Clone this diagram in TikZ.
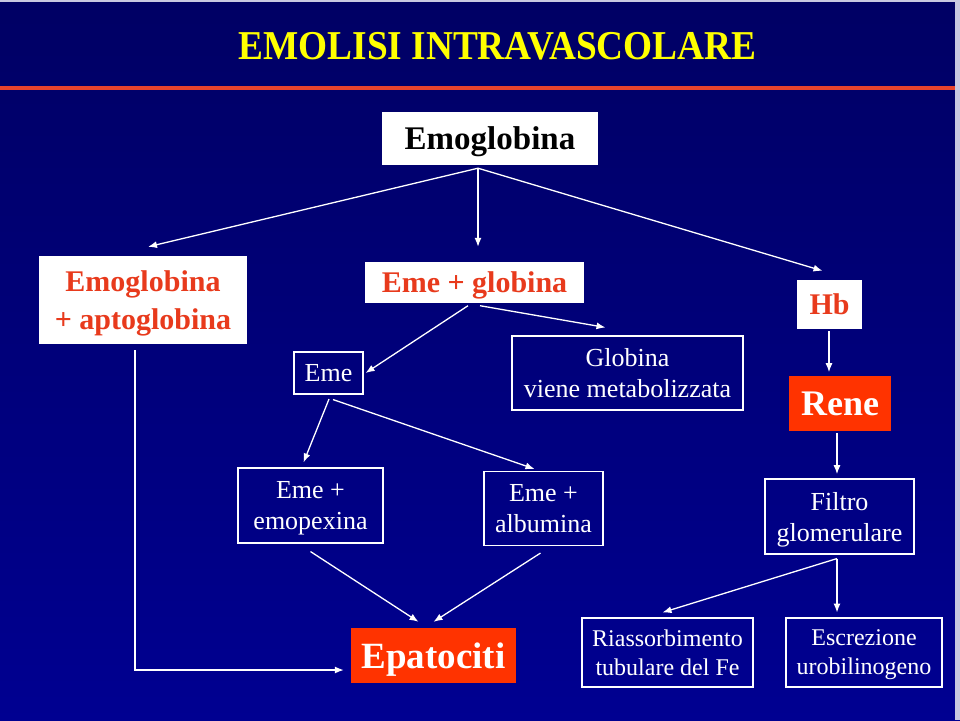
\documentclass[tikz,border=0pt]{standalone}
\usepackage{fontspec}
\setmainfont{Liberation Serif}
\usetikzlibrary{arrows.meta,calc}
\definecolor{bgtop}{RGB}{0,0,100}
\definecolor{bgbot}{RGB}{0,0,145}
\definecolor{redtxt}{RGB}{232,58,28}
\definecolor{redfill}{RGB}{255,51,0}
\definecolor{rule}{RGB}{232,67,45}
\definecolor{titley}{RGB}{255,255,0}
\definecolor{edge}{RGB}{200,200,225}
\tikzset{
  whitebox/.style={fill=white, inner sep=0pt, align=center, text=redtxt, text depth=0pt,
    font=\bfseries\fontsize{30}{38}\selectfont},
  framebox/.style={draw=white, line width=1.1pt, inner sep=0pt, align=center, text=white,
    text depth=0pt, font=\fontsize{26}{31}\selectfont},
  smallframe/.style={framebox, font=\fontsize{24}{29}\selectfont},
  redbox/.style={fill=redfill, inner sep=0pt, align=center, text=white, text depth=0pt},
  conn/.style={draw=white, line width=1.3pt},
  arr/.style={conn, -{Latex[length=9pt,width=7pt]}}
}
\begin{document}
\begin{tikzpicture}[x=1pt,y=-1pt]
\useasboundingbox (0,0) rectangle (960,720);
% background
\fill[top color=bgtop, bottom color=bgbot] (0,0) rectangle (960,720);
\fill[edge] (955,0) rectangle (960,720);
\fill[edge] (0,0) rectangle (960,1.5);
\fill[rule] (0,86) rectangle (955,90);
% title
\node[anchor=base, text=titley, inner sep=0pt] (title) at (497.5,59)
  {\scalebox{0.91}[1]{\bfseries\fontsize{41}{41}\selectfont EMOLISI INTRAVASCOLARE}};
% nodes
\node[whitebox, text=black, font=\bfseries\fontsize{33}{38}\selectfont,
  minimum width=216pt, minimum height=53pt] (emo) at (490,138.5) {Emoglobina};
\node[whitebox, minimum width=208pt, minimum height=88pt] (apto) at (143,300)
  {Emoglobina\\+ aptoglobina};
\node[whitebox, minimum width=219pt, minimum height=41pt] (eg) at (474.5,282.5) {Eme + globina};
\node[whitebox, minimum width=65pt, minimum height=49pt] (hb) at (829.5,304.5) {Hb};
\node[framebox, minimum width=69pt, minimum height=42pt] (eme) at (328.5,373) {Eme};
\node[framebox, minimum width=231pt, minimum height=74pt] (glob) at (627.5,373)
  {Globina\\viene metabolizzata};
\node[redbox, font=\bfseries\fontsize{36}{40}\selectfont,
  minimum width=102pt, minimum height=55pt] (rene) at (840,403.5) {Rene};
\node[framebox, minimum width=145pt, minimum height=75pt] (emop) at (310.5,505.5)
  {Eme +\\emopexina};
\node[framebox, minimum width=119pt, minimum height=74pt] (alb) at (543.5,508.5)
  {Eme +\\albumina};
\node[framebox, minimum width=149pt, minimum height=75pt] (filt) at (839.5,516.5)
  {Filtro\\glomerulare};
\node[redbox, font=\bfseries\fontsize{37}{40}\selectfont,
  minimum width=165pt, minimum height=55pt] (epa) at (433.5,655.5) {Epatociti};
\node[smallframe, minimum width=171pt, minimum height=69pt] (riass) at (667.5,652.5)
  {Riassorbimento\\tubulare del Fe};
\node[smallframe, minimum width=156pt, minimum height=69pt] (escr) at (864,652.5)
  {Escrezione\\urobilinogeno};
% split points
\coordinate (emoS) at ($(emo.south)+(-12,3)$);
\coordinate (egL) at ($(eg.south)+(-6.5,2.5)$);
\coordinate (egR) at ($(eg.south)+(5.5,2.5)$);
\coordinate (emeL) at ($(eme.south)+(0.5,4.5)$);
\coordinate (emeR) at ($(eme.south)+(4.5,5)$);
\coordinate (filtS) at ($(filt.south)+(-2.5,4)$);
% connectors
\draw[arr] (emoS) -- ($(apto.north)+(5,-9)$);
\draw[arr] (emoS) -- ($(eg.north)+(3.5,-15)$);
\draw[arr] (emoS) -- ($(hb.north)+(-7,-9)$);
\draw[arr] (egL) -- ($(eme.east)+(2,0)$);
\draw[arr] (egR) -- ($(glob.north)+(-22,-8)$);
\draw[arr] (emeL) -- ($(emop.north)+(-7,-5)$);
\draw[arr] (emeR) -- ($(alb.north)+(-9,-2)$);
\draw[arr] ($(emop.south)+(0,8)$) -- ($(epa.north)+(-15,-6)$);
\draw[arr] ($(alb.south)+(-3,7)$) -- ($(epa.north)+(0,-6)$);
\draw[arr] ($(apto.south)+(-8,6)$) |- ($(epa.west)+(-7,14.5)$);
\draw[arr] ($(hb.south)+(-0.5,2)$) -- ($(hb.south)+(-0.5,43)$);
\draw[arr] ($(rene.south)+(-3,2)$) -- ($(rene.south)+(-3,43)$);
\draw[arr] (filtS) -- ($(riass.north)+(-5,-5)$);
\draw[arr] (filtS) -- ($(escr.north |- filtS)+(-27,54)$);
\end{tikzpicture}
\end{document}
